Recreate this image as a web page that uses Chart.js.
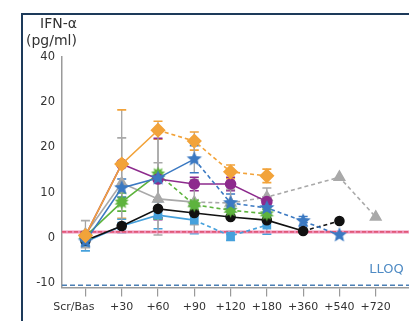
<!DOCTYPE html>
<html>
<head>
<meta charset="utf-8">
<script src="https://cdn.jsdelivr.net/npm/chart.js@4/dist/chart.umd.min.js"></script>
<style>
  html, body { margin: 0; padding: 0; background: #fff; overflow: hidden; width: 409px; height: 321px; }
  #frame { position: absolute; left: 21px; top: 13px; width: 420px; height: 330px;
           border-left: 2px solid #1d3a5a; border-top: 2px solid #1d3a5a; }
  .unit { position: absolute; font: 14px "DejaVu Sans", sans-serif; color: #333; line-height: 17px; white-space: nowrap; }
  #c { position: absolute; left: 0; top: 0; }
</style>
</head>
<body>
<canvas id="c" width="440" height="321"></canvas>
<div id="frame"></div>
<div class="unit" style="left:40px; top:15px;">IFN-α</div>
<div class="unit" style="left:26px; top:32px;">(pg/ml)</div>
<script>
// time points
const categories = ["Scr/Bas", "+30", "+60", "+90", "+120", "+180", "+360", "+540", "+720"];

// y tick positions and the labels printed on the picture
const yTickValues = [-10, 0, 10, 20, 30, 40];
const yTickLabels = ["-10", "0", "10", "20", "20", "40"];

// series values (pg/ml), null = no point
const orangeVals = [0.5, 16.3, 23.8, 21.4, 14.6, 13.7, null, null, null];
const purpleVals = [0.5, 16.3, 13.0, 11.9, 11.9, 8.0, null, null, null];
const blueVals   = [-0.8, 11.0, 13.2, 17.4, 7.7, 6.6, 3.7, 0.6, null];
const greyVals   = [0.8, 12.1, 8.6, 7.9, 7.7, 9.0, null, 13.4, 4.6];
const greenVals  = [0.3, 7.9, 14.1, 7.3, 6.1, 5.3, null, null, null];
const blackVals  = [-0.6, 2.6, 6.4, 5.5, 4.6, 3.9, 1.5, 3.7, null];
const lightVals  = [-0.9, 2.6, 5.0, 3.9, 0.4, 2.8, null, null, null];

// error bar half widths
const orangeErr = [null, 12, 2, 2, 1.5, 1.5, null, null, null];
const purpleErr = [null, null, 9, 1.5, 1.5, 1, null, null, null];
const blueErr   = [1, 2, null, 3, 2, null, 1, null, null];
const greyErr   = [3, 10, 8, 5, 3, 2, null, null, null];
const greenErr  = [null, 2, 10, 1, 1, 1, null, null, null];
const blackErr  = [null, null, 2, null, null, null, null, null, null];
const lightErr  = [2, 1.5, 3, 3, 1, 2, null, null, null];

// reference lines
const baselineValue = 1.3;
const lloqValue = -10.5;

function starImage(color, spikes, outer, inner) {
  const s = outer * 2 + 2;
  const cv = document.createElement("canvas");
  cv.width = s; cv.height = s;
  const g = cv.getContext("2d");
  g.beginPath();
  for (let i = 0; i < spikes * 2; i++) {
    const r = i % 2 === 0 ? outer : inner;
    const a = -Math.PI / 2 + i * Math.PI / spikes;
    const x = s / 2 + r * Math.cos(a), y = s / 2 + r * Math.sin(a);
    if (i === 0) g.moveTo(x, y); else g.lineTo(x, y);
  }
  g.closePath();
  g.fillStyle = color;
  g.fill();
  return cv;
}

const blueStar = starImage("#3b79c2", 5, 8, 3.6);
const greenBurst = starImage("#5db33d", 10, 7.5, 4.5);

function pts(vals) {
  return vals.map((v, i) => ({ x: i, y: v }));
}

function series(label, vals, err, color, style, radius, dashFrom) {
  return {
    label: label,
    data: pts(vals),
    err: err,
    borderColor: color,
    backgroundColor: color,
    pointBackgroundColor: color,
    pointBorderColor: color,
    pointStyle: style,
    pointRadius: radius,
    borderWidth: 1.6,
    spanGaps: true,
    segment: {
      borderDash: ctx => ctx.p0DataIndex >= dashFrom ? [4, 3] : undefined
    }
  };
}

// first dataset is drawn on top
const datasets = [
  series("orange", orangeVals, orangeErr, "#f2a33a", "rectRot", 6.5, 2),
  series("blue", blueVals, blueErr, "#3b79c2", blueStar, 7, 3),
  series("purple", purpleVals, purpleErr, "#8d2b8d", "circle", 5, 99),
  series("green", greenVals, greenErr, "#5db33d", greenBurst, 7, 2),
  series("black", blackVals, blackErr, "#111111", "circle", 4.5, 6),
  series("lightblue", lightVals, lightErr, "#46a1dc", "rect", 5, 3),
  series("grey", greyVals, greyErr, "#a9a9a9", "triangle", 6, 3)
];

const refLines = {
  id: "refLines",
  beforeDatasetsDraw(chart) {
    const { ctx, chartArea, scales } = chart;
    const x = scales.x, y = scales.y;
    ctx.save();
    // error bars
    chart.data.datasets.forEach(ds => {
      ds.err.forEach((e, i) => {
        const v = ds.data[i].y;
        if (e == null || v == null) return;
        const px = x.getPixelForValue(i);
        const top = y.getPixelForValue(v + e), bot = y.getPixelForValue(v - e);
        ctx.strokeStyle = "#a3a3a3";
        ctx.lineWidth = 1.3;
        ctx.beginPath(); ctx.moveTo(px, top); ctx.lineTo(px, bot); ctx.stroke();
        ctx.strokeStyle = ds.borderColor;
        ctx.lineWidth = 1.6;
        ctx.beginPath();
        ctx.moveTo(px - 4.5, top); ctx.lineTo(px + 4.5, top);
        ctx.moveTo(px - 4.5, bot); ctx.lineTo(px + 4.5, bot);
        ctx.stroke();
      });
    });
    // baseline
    const by = y.getPixelForValue(baselineValue);
    ctx.strokeStyle = "#ee8fb8";
    ctx.lineWidth = 3;
    ctx.beginPath(); ctx.moveTo(chartArea.left, by); ctx.lineTo(chartArea.right, by); ctx.stroke();
    ctx.strokeStyle = "#d8344a";
    ctx.lineWidth = 1;
    ctx.setLineDash([4, 2]);
    ctx.beginPath(); ctx.moveTo(chartArea.left, by); ctx.lineTo(chartArea.right, by); ctx.stroke();
    // LLOQ
    const ly = y.getPixelForValue(lloqValue);
    ctx.strokeStyle = "#4b7fb4";
    ctx.lineWidth = 1.5;
    ctx.setLineDash([5, 3]);
    ctx.beginPath(); ctx.moveTo(chartArea.left, ly); ctx.lineTo(chartArea.right, ly); ctx.stroke();
    ctx.setLineDash([]);
    ctx.fillStyle = "#4f8bc4";
    ctx.font = '13px "DejaVu Sans", sans-serif';
    ctx.textAlign = "left";
    ctx.textBaseline = "middle";
    ctx.fillText("LLOQ", x.getPixelForValue(7.82), y.getPixelForValue(-7));
    ctx.restore();
  },
  afterDraw(chart) {
    // category labels under the x axis (first one sits left of its tick)
    const { ctx, scales } = chart;
    ctx.save();
    ctx.fillStyle = "#333";
    ctx.font = '11px "DejaVu Sans", sans-serif';
    ctx.textBaseline = "middle";
    categories.forEach((c, i) => {
      const px = scales.x.getPixelForValue(i);
      ctx.textAlign = i === 0 ? "right" : "center";
      ctx.fillText(c, i === 0 ? px + 9 : px, scales.x.bottom - 14);
    });
    ctx.restore();
  }
};

new Chart(document.getElementById("c"), {
  type: "line",
  data: { datasets: datasets },
  plugins: [refLines],
  options: {
    responsive: false,
    animation: false,
    layout: { padding: { top: 57, left: 0, right: 0, bottom: 0 } },
    plugins: { legend: { display: false }, tooltip: { enabled: false } },
    scales: {
      x: {
        type: "linear",
        min: -0.646,
        max: 9.535,
        afterFit: s => { s.height = 33.5; },
        afterBuildTicks: s => { s.ticks = categories.map((c, i) => ({ value: i })); },
        ticks: { display: false },
        grid: { display: true, drawOnChartArea: false, drawTicks: true, tickLength: 9, color: "#9a9a9a", lineWidth: 1.2 },
        border: { display: true, color: "#9a9a9a", width: 1.5 }
      },
      y: {
        min: -11,
        max: 40,
        afterFit: s => { s.width = 62; },
        afterBuildTicks: s => { s.ticks = yTickValues.map(v => ({ value: v })); },
        ticks: {
          callback: v => yTickLabels[yTickValues.indexOf(v)],
          color: "#333",
          font: { family: "DejaVu Sans", size: 11.5 },
          padding: 7
        },
        grid: { display: false, drawTicks: false },
        border: { display: true, color: "#9a9a9a", width: 1.5 }
      }
    }
  }
});
</script>
</body>
</html>
